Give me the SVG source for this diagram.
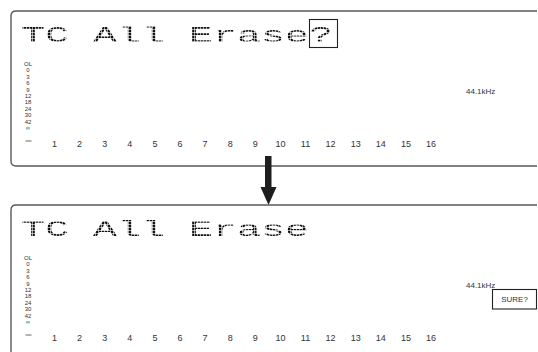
<svg xmlns="http://www.w3.org/2000/svg" width="538" height="352" viewBox="0 0 538 352">
<style>
.frame{fill:none;stroke:#5a5a5a;stroke-width:1.4}
.lcd{font-family:"Liberation Mono",monospace;font-size:22px;fill:#111}
.lvl{font-family:"Liberation Sans",Arial,sans-serif;font-size:6px;fill:#333;text-anchor:middle}
.ch{font-family:"Liberation Sans",Arial,sans-serif;font-size:9px;fill:#333;text-anchor:middle}
.fs{font-family:"Liberation Sans",Arial,sans-serif;font-size:8px;fill:#333}
.box{fill:none;stroke:#222;stroke-width:1.1}
</style>
<defs>
<pattern id="dots" width="3" height="3" patternUnits="userSpaceOnUse"><rect width="2.4" height="2.4" fill="#fff"/></pattern>
<mask id="dm"><rect width="538" height="352" fill="url(#dots)"/></mask>
<g id="meter">
<text class="lvl" x="28" y="66">OL</text>
<text class="lvl" x="28" y="72.4">0</text>
<text class="lvl" x="28" y="78.8">3</text>
<text class="lvl" x="28" y="85.2">6</text>
<text class="lvl" x="28" y="91.6">9</text>
<text class="lvl" x="28" y="98">12</text>
<text class="lvl" x="28" y="104.4">18</text>
<text class="lvl" x="28" y="110.8">24</text>
<text class="lvl" x="28" y="117.2">30</text>
<text class="lvl" x="28" y="123.6">42</text>
<text class="lvl" x="28" y="130">∞</text>
<line x1="25.5" y1="141" x2="31.5" y2="141" stroke="#555" stroke-width="0.9"/>
<text class="ch" x="54.5" y="147">1</text>
<text class="ch" x="79.6" y="147">2</text>
<text class="ch" x="104.7" y="147">3</text>
<text class="ch" x="129.8" y="147">4</text>
<text class="ch" x="154.9" y="147">5</text>
<text class="ch" x="180" y="147">6</text>
<text class="ch" x="205.1" y="147">7</text>
<text class="ch" x="230.2" y="147">8</text>
<text class="ch" x="255.3" y="147">9</text>
<text class="ch" x="280.4" y="147">10</text>
<text class="ch" x="305.5" y="147">11</text>
<text class="ch" x="330.6" y="147">12</text>
<text class="ch" x="355.7" y="147">13</text>
<text class="ch" x="380.8" y="147">14</text>
<text class="ch" x="405.9" y="147">15</text>
<text class="ch" x="431" y="147">16</text>
<text class="fs" x="466" y="94">44.1kHz</text>
</g>
</defs>
<g id="panel-top">
<path class="frame" d="M537,11 H16 Q11,11 11,16 V161 Q11,166 16,166 H537"/>
<g mask="url(#dm)"><text class="lcd" x="21" y="42" textLength="312" lengthAdjust="spacingAndGlyphs" xml:space="preserve">TC All Erase?</text></g>
<rect class="box" x="309.5" y="19.5" width="28" height="28"/>
<use href="#meter"/>
</g>
<g id="connectors">
<rect x="265" y="156" width="6.5" height="33" fill="#1e1e1e"/>
<polygon points="260.5,187 276.5,187 268.5,205" fill="#1e1e1e"/>
</g>
<g id="panel-bottom">
<path class="frame" d="M537,205 H16 Q11,205 11,210 V352"/>
<g mask="url(#dm)"><text class="lcd" x="21" y="236" textLength="312" lengthAdjust="spacingAndGlyphs" xml:space="preserve">TC All Erase </text></g>
<use href="#meter" y="194"/>
<rect class="box" x="492.5" y="289.5" width="44" height="19.5"/>
<text class="fs" x="514.5" y="302" text-anchor="middle" font-size="7px">SURE?</text>
</g>
</svg>
